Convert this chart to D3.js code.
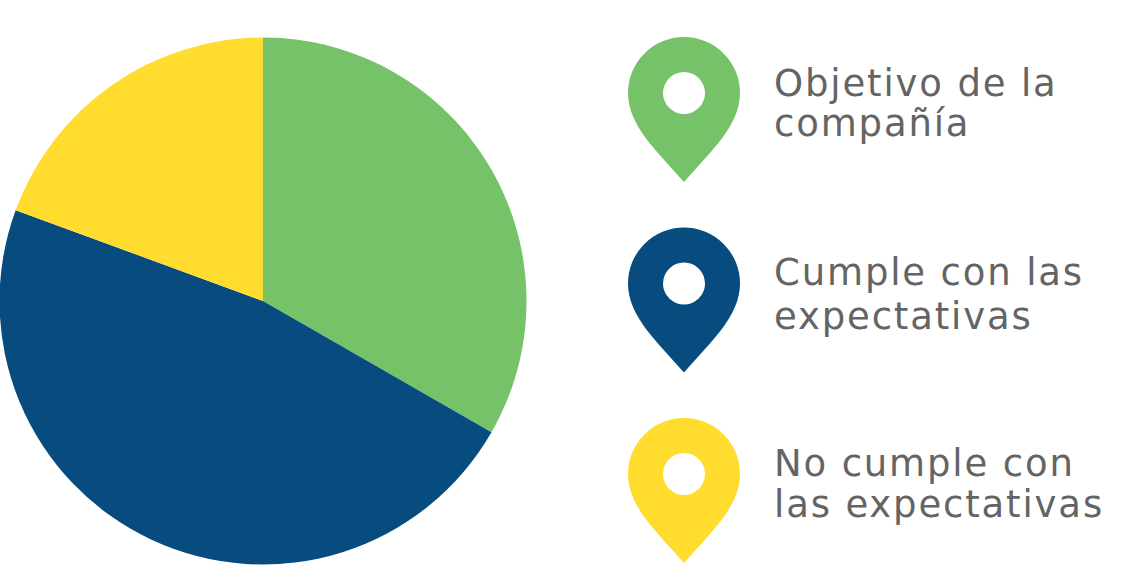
<!DOCTYPE html>
<html>
<head>
<meta charset="utf-8">
<script src="https://cdn.jsdelivr.net/npm/d3@7"></script>
<style>
html, body { margin: 0; padding: 0; background: #fff; }
svg { display: block; }
text { font-family: Verdana, "DejaVu Sans", sans-serif; fill: #646464; font-size: 37px; letter-spacing: 1.85px; }
</style>
</head>
<body>
<svg id="chart" width="1129" height="578"></svg>
<script>
var categories = ['Objetivo de la compañía', 'Cumple con las expectativas', 'No cumple con las expectativas'];
var values = [33.3, 47.3, 19.4];
var colors = ['#75c269', '#074b7f', '#ffdc2e'];
var labelLines = [['Objetivo de la', 'compañía'], ['Cumple con las', 'expectativas'], ['No cumple con', 'las expectativas']];

var svg = d3.select('#chart');

var pie = d3.pie().sort(null).value(function (d) { return d; });
var arc = d3.arc().innerRadius(0).outerRadius(263.5);

svg.append('g')
    .attr('transform', 'translate(263,301)')
    .selectAll('path')
    .data(pie(values))
    .enter()
    .append('path')
    .attr('d', arc)
    .attr('fill', function (d, i) { return colors[i]; });

// pin shape, origin sits 17px under the hole centre
var pinPath = 'M0,72 C-26,42 -56,16 -56,-17 A56,56 0 1 1 56,-17 C56,16 26,42 0,72 Z';

var legendY = d3.scalePoint().domain(categories).range([110, 491]);

var legend = svg.selectAll('.legend')
    .data(categories)
    .enter()
    .append('g')
    .attr('class', 'legend')
    .attr('transform', function (d) { return 'translate(684,' + legendY(d) + ')'; });

legend.append('path')
    .attr('d', pinPath)
    .attr('fill', function (d, i) { return colors[i]; });

legend.append('circle')
    .attr('cy', -17)
    .attr('r', 21)
    .attr('fill', '#fff');

// the middle label has a looser line gap than the other two
var firstLine = [-14, -15.5, -15];
var lineGap = [40, 44, 41];

legend.each(function (d, i) {
    d3.select(this).selectAll('text')
        .data(labelLines[i])
        .enter()
        .append('text')
        .attr('x', 90)
        .attr('y', function (t, j) { return firstLine[i] + j * lineGap[i]; })
        .text(function (t) { return t; });
});
</script>
</body>
</html>
